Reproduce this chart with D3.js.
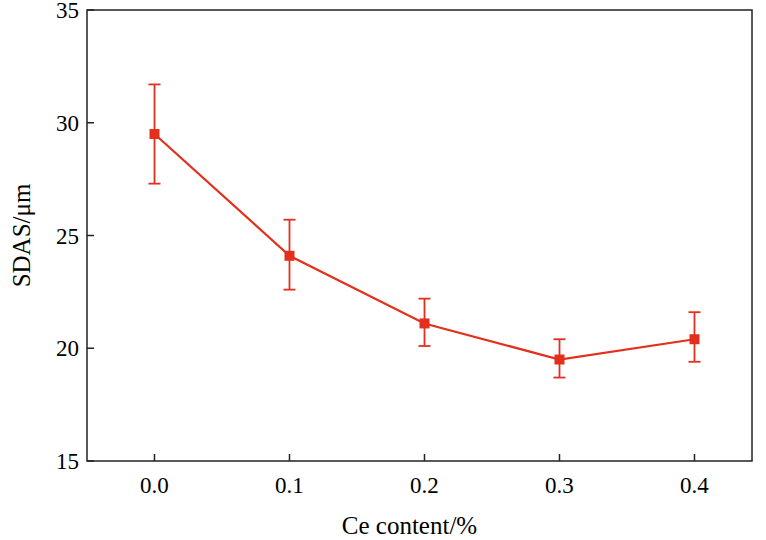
<!DOCTYPE html>
<html><head><meta charset="utf-8">
<script src="https://cdn.jsdelivr.net/npm/d3@7"></script>
<style>body{margin:0;background:#fff}text{font-family:"Liberation Serif",serif}</style>
</head><body><svg id="c" width="766" height="540"></svg>
<script>
// data
const ceContent = [0.0, 0.1, 0.2, 0.3, 0.4];
const sdas = [29.5, 24.1, 21.1, 19.5, 20.4];
const errHigh = [31.7, 25.7, 22.2, 20.4, 21.6];
const errLow = [27.3, 22.6, 20.1, 18.7, 19.4];
const xTicks = ["0.0", "0.1", "0.2", "0.3", "0.4"];
const yTicks = [15, 20, 25, 30, 35];

const svg = d3.select("#c");
const mLeft = 87, mRight = 752, mTop = 10, mBottom = 461;
const x = d3.scaleLinear().domain([-0.05, 0.4426]).range([mLeft, mRight]);
const y = d3.scaleLinear().domain([15, 35]).range([mBottom, mTop]);
const red = "#e3301c";

svg.append("rect").attr("x", mLeft).attr("y", mTop).attr("width", mRight - mLeft).attr("height", mBottom - mTop)
  .attr("fill", "none").attr("stroke", "#222").attr("stroke-width", 1.5);

// y ticks (inward)
yTicks.forEach(function (t) {
  svg.append("line").attr("x1", mLeft).attr("x2", mLeft + 7).attr("y1", y(t)).attr("y2", y(t)).attr("stroke", "#222").attr("stroke-width", 1.5);
  svg.append("text").attr("x", mLeft - 8).attr("y", y(t) + 8).attr("text-anchor", "end").attr("font-size", 23).text(t);
});
// x ticks
ceContent.forEach(function (v, i) {
  svg.append("line").attr("x1", x(v)).attr("x2", x(v)).attr("y1", mBottom).attr("y2", mBottom - 7).attr("stroke", "#222").attr("stroke-width", 1.5);
  svg.append("text").attr("x", x(v)).attr("y", mBottom + 32).attr("text-anchor", "middle").attr("font-size", 23).text(xTicks[i]);
});

svg.append("text").attr("x", (mLeft + mRight) / 2 - 10).attr("y", 534).attr("text-anchor", "middle").attr("font-size", 25).text("Ce content/%");
svg.append("text").attr("transform", "translate(30," + ((mTop + mBottom) / 2) + ") rotate(-90)").attr("text-anchor", "middle").attr("font-size", 25).text("SDAS/μm");

// error bars
ceContent.forEach(function (v, i) {
  const g = svg.append("g").attr("stroke", red).attr("stroke-width", 1.8);
  g.append("line").attr("x1", x(v)).attr("x2", x(v)).attr("y1", y(errHigh[i])).attr("y2", y(errLow[i]));
  g.append("line").attr("x1", x(v) - 6).attr("x2", x(v) + 6).attr("y1", y(errHigh[i])).attr("y2", y(errHigh[i]));
  g.append("line").attr("x1", x(v) - 6).attr("x2", x(v) + 6).attr("y1", y(errLow[i])).attr("y2", y(errLow[i]));
});

const line = d3.line().x(function (d, i) { return x(ceContent[i]); }).y(function (d) { return y(d); });
svg.append("path").datum(sdas).attr("d", line).attr("fill", "none").attr("stroke", red).attr("stroke-width", 2.2);

svg.selectAll(".pt").data(sdas).enter().append("rect")
  .attr("x", function (d, i) { return x(ceContent[i]) - 5; })
  .attr("y", function (d) { return y(d) - 5; })
  .attr("width", 10).attr("height", 10).attr("fill", red);
</script></body></html>
